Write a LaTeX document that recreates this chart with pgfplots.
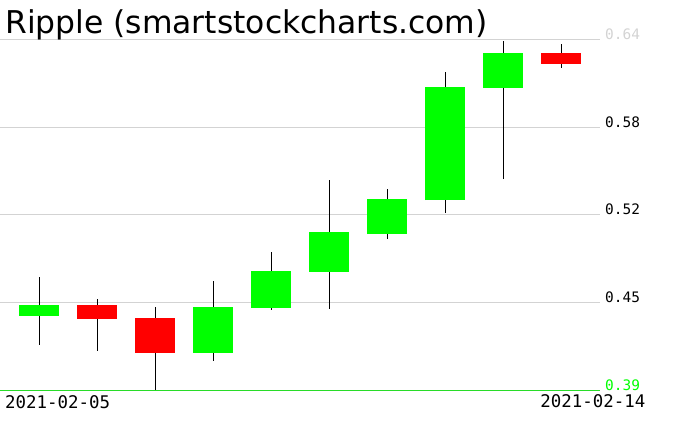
\documentclass[border=0pt]{standalone}
\usepackage{pgfplots}
\pgfplotsset{compat=1.18}
\usepackage{fontspec}
\newfontfamily\chartfont{DejaVu Sans}
\newfontfamily\tickfont{DejaVu Sans Mono}
\definecolor{up}{RGB}{0,255,0}
\definecolor{down}{RGB}{255,0,0}
\definecolor{gridgray}{RGB}{211,211,211}
\definecolor{basegreen}{RGB}{40,220,40}

\begin{document}
\begin{tikzpicture}
	\begin{axis}[
			scale only axis,
			width=600bp, height=350bp,
			xmin=-0.678, xmax=9.667,
			ymin=0.39, ymax=0.64,
			clip=false,
			axis line style={draw=none},
			major tick length=0pt,
			ymajorgrids,
			major grid style={gridgray, line width=1bp},
			ytick={0.4525,0.515,0.5775,0.64},
			yticklabels={0.45,0.52,0.58,{\color{gridgray}0.64}},
			extra y ticks={0.39},
			extra y tick labels={{\color{up}0.39}},
			extra y tick style={major grid style={basegreen, line width=1bp}},
			yticklabel pos=right,
			yticklabel style={anchor=base west, inner sep=0pt, xshift=5bp,
				font=\tickfont\fontsize{14.5}{15}\selectfont},
			/pgf/number format/assume math mode=true,
			xtick={0},
			xticklabels={2021-02-05},
			xticklabel style={anchor=north west, inner sep=0pt, xshift=-34.3bp, yshift=-5bp,
				font=\tickfont\fontsize{17.5}{18}\selectfont},
			extra x ticks={9},
			extra x tick labels={2021-02-14},
			extra x tick style={xticklabel style={anchor=north east, xshift=118.6bp, yshift=1bp}},
			title={Ripple (smartstockcharts.com)},
			title style={at={(0,1)}, anchor=base west, inner sep=0pt, xshift=5bp, yshift=1bp,
				font=\chartfont\fontsize{31.5}{32}\selectfont},
		]

		% wicks: low and high of each day
		\addplot[black, line width=1bp, unbounded coords=jump] coordinates {
			(0,0.4224) (0,0.4707) (0,nan)
			(1,0.4181) (1,0.4550) (1,nan)
			(2,0.3902) (2,0.4493) (2,nan)
			(3,0.4109) (3,0.4678) (3,nan)
			(4,0.4473) (4,0.4886) (4,nan)
			(5,0.4481) (5,0.5400) (5,nan)
			(6,0.4979) (6,0.5335) (6,nan)
			(7,0.5166) (7,0.6171) (7,nan)
			(8,0.5407) (8,0.6393) (8,nan)
			(9,0.6202) (9,0.6371)
		};

		% rising bodies: open to close
		\addplot[up, line width=40bp, line cap=butt, unbounded coords=jump] coordinates {
			(0,0.4431) (0,0.4507) (0,nan)
			(3,0.4166) (3,0.4493) (3,nan)
			(4,0.4486) (4,0.4750) (4,nan)
			(5,0.4745) (5,0.5029) (5,nan)
			(6,0.5014) (6,0.5264) (6,nan)
			(7,0.5257) (7,0.6064) (7,nan)
			(8,0.6057) (8,0.6307)
		};

		% falling bodies: open to close
		\addplot[down, line width=40bp, line cap=butt, unbounded coords=jump] coordinates {
			(1,0.4507) (1,0.4409) (1,nan)
			(2,0.4414) (2,0.4166) (2,nan)
			(9,0.6307) (9,0.6230)
		};
	\end{axis}
	\pgfresetboundingbox
	\path (0,-41bp) rectangle (676bp,390bp);
\end{tikzpicture}
\end{document}
